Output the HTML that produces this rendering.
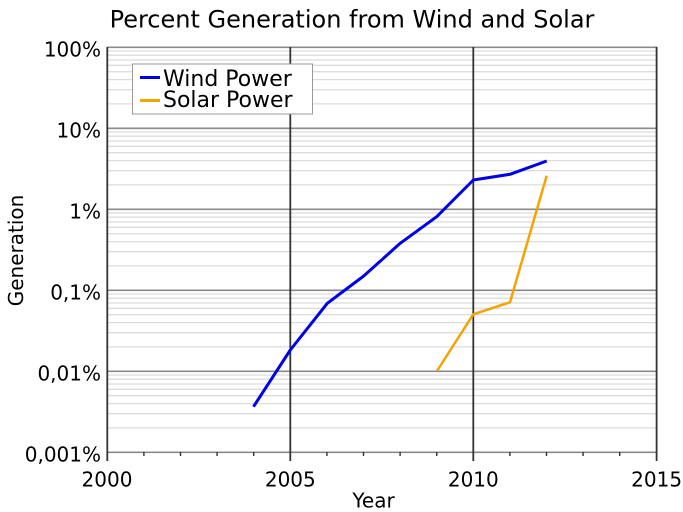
<!DOCTYPE html>
<html><head><meta charset="utf-8"><style>
html,body{margin:0;padding:0;background:#fff;}
svg{display:block;}
text{font-family:"DejaVu Sans","Liberation Sans",sans-serif;fill:#000;}
</style></head><body>
<svg width="683" height="512" viewBox="0 0 683 512" xmlns="http://www.w3.org/2000/svg">
<rect width="683" height="512" fill="#fff"/>
<!-- minor horizontal grid -->
<g stroke="#dcdcdc" stroke-width="1.3">
<line x1="108" x2="656" y1="51.0" y2="51.0"/><line x1="108" x2="656" y1="55.2" y2="55.2"/><line x1="108" x2="656" y1="60.0" y2="60.0"/><line x1="108" x2="656" y1="65.3" y2="65.3"/><line x1="108" x2="656" y1="71.7" y2="71.7"/><line x1="108" x2="656" y1="79.6" y2="79.6"/><line x1="108" x2="656" y1="89.7" y2="89.7"/><line x1="108" x2="656" y1="103.9" y2="103.9"/>
<line x1="108" x2="656" y1="132.0" y2="132.0"/><line x1="108" x2="656" y1="136.2" y2="136.2"/><line x1="108" x2="656" y1="141.0" y2="141.0"/><line x1="108" x2="656" y1="146.3" y2="146.3"/><line x1="108" x2="656" y1="152.7" y2="152.7"/><line x1="108" x2="656" y1="160.6" y2="160.6"/><line x1="108" x2="656" y1="170.7" y2="170.7"/><line x1="108" x2="656" y1="184.9" y2="184.9"/>
<line x1="108" x2="656" y1="213.0" y2="213.0"/><line x1="108" x2="656" y1="217.2" y2="217.2"/><line x1="108" x2="656" y1="222.0" y2="222.0"/><line x1="108" x2="656" y1="227.3" y2="227.3"/><line x1="108" x2="656" y1="233.7" y2="233.7"/><line x1="108" x2="656" y1="241.6" y2="241.6"/><line x1="108" x2="656" y1="251.7" y2="251.7"/><line x1="108" x2="656" y1="265.9" y2="265.9"/>
<line x1="108" x2="656" y1="294.0" y2="294.0"/><line x1="108" x2="656" y1="298.2" y2="298.2"/><line x1="108" x2="656" y1="303.0" y2="303.0"/><line x1="108" x2="656" y1="308.3" y2="308.3"/><line x1="108" x2="656" y1="314.7" y2="314.7"/><line x1="108" x2="656" y1="322.6" y2="322.6"/><line x1="108" x2="656" y1="332.7" y2="332.7"/><line x1="108" x2="656" y1="346.9" y2="346.9"/>
<line x1="108" x2="656" y1="375.0" y2="375.0"/><line x1="108" x2="656" y1="379.2" y2="379.2"/><line x1="108" x2="656" y1="384.0" y2="384.0"/><line x1="108" x2="656" y1="389.3" y2="389.3"/><line x1="108" x2="656" y1="395.7" y2="395.7"/><line x1="108" x2="656" y1="403.6" y2="403.6"/><line x1="108" x2="656" y1="413.7" y2="413.7"/><line x1="108" x2="656" y1="427.9" y2="427.9"/>
</g>
<!-- major horizontal grid -->
<g stroke="#8a8a8a" stroke-width="1.6">
<line x1="107" x2="657" y1="47.3" y2="47.3"/>
<line x1="107" x2="657" y1="128.3" y2="128.3"/>
<line x1="107" x2="657" y1="209.3" y2="209.3"/>
<line x1="107" x2="657" y1="290.3" y2="290.3"/>
<line x1="107" x2="657" y1="371.3" y2="371.3"/>
<line x1="107" x2="657" y1="452.3" y2="452.3"/>
</g>
<!-- vertical lines -->
<g stroke="#333" stroke-width="1.8">
<line x1="107.3" x2="107.3" y1="47" y2="461"/>
<line x1="290.3" x2="290.3" y1="47" y2="461"/>
<line x1="473.3" x2="473.3" y1="47" y2="461"/>
<line x1="656.6" x2="656.6" y1="47" y2="461"/>
</g>
<!-- minor ticks -->
<g stroke="#333" stroke-width="1.4">
<line x1="143.9" x2="143.9" y1="452" y2="456"/><line x1="180.5" x2="180.5" y1="452" y2="456"/><line x1="217.1" x2="217.1" y1="452" y2="456"/><line x1="253.7" x2="253.7" y1="452" y2="456"/>
<line x1="326.9" x2="326.9" y1="452" y2="456"/><line x1="363.5" x2="363.5" y1="452" y2="456"/><line x1="400.1" x2="400.1" y1="452" y2="456"/><line x1="436.7" x2="436.7" y1="452" y2="456"/>
<line x1="509.9" x2="509.9" y1="452" y2="456"/><line x1="546.5" x2="546.5" y1="452" y2="456"/><line x1="583.1" x2="583.1" y1="452" y2="456"/><line x1="619.7" x2="619.7" y1="452" y2="456"/>
</g>
<!-- legend -->
<rect x="132.5" y="64" width="180" height="50" fill="#fff" stroke="#999" stroke-width="1"/>
<line x1="140" x2="160" y1="77.5" y2="77.5" stroke="#0000e6" stroke-width="3"/>
<line x1="140" x2="160" y1="100.5" y2="100.5" stroke="#f5a300" stroke-width="3"/>
<text x="163" y="86" font-size="22">Wind Power</text>
<text x="163" y="107" font-size="22">Solar Power</text>
<!-- series -->
<polyline fill="none" stroke="#0000e6" stroke-width="3" stroke-linejoin="round" points="253.5,406.7 290.3,350 327.3,303.3 363.7,276 400.2,243.3 436.7,216.7 473.3,180 510,174.3 546.7,161"/>
<polyline fill="none" stroke="#f5a300" stroke-width="2.5" stroke-linejoin="round" points="437.3,370.5 473.3,314.3 510,302.3 546.7,175.7"/>
<!-- title -->
<text x="352" y="27.5" font-size="24" text-anchor="middle">Percent Generation from Wind and Solar</text>
<!-- y labels -->
<g font-size="20" text-anchor="end">
<text x="101" y="56.5">100%</text>
<text x="101" y="137.5">10%</text>
<text x="101" y="218.3">1%</text>
<text x="101" y="299.3">0,1%</text>
<text x="101" y="380.3">0,01%</text>
<text x="101" y="461.3">0,001%</text>
</g>
<!-- x labels -->
<g font-size="20" text-anchor="middle">
<text x="107" y="486.7">2000</text>
<text x="290.3" y="486.7">2005</text>
<text x="473.3" y="486.7">2010</text>
<text x="656.6" y="486.7">2015</text>
</g>
<text x="373.5" y="507.5" font-size="20" text-anchor="middle">Year</text>
<text transform="translate(23,250.5) rotate(-90)" font-size="20" text-anchor="middle">Generation</text>
</svg>
</body></html>
